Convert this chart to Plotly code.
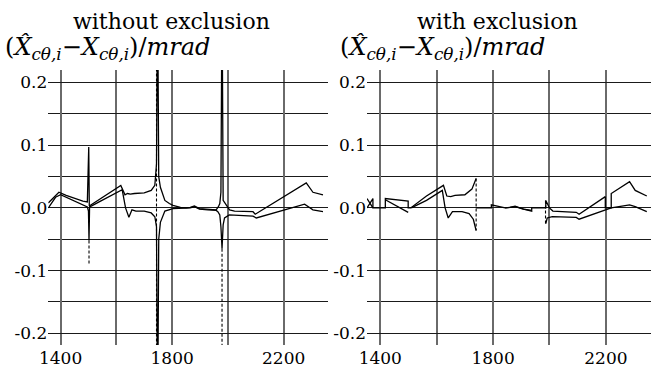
import plotly.graph_objects as go

# ---------------- data ----------------
# Left panel: "without exclusion"
left_c1_x = [1356, 1375, 1394, 1420, 1450, 1480, 1496, 1501, 1503, 1510, 1540, 1570, 1600, 1616,
             1631, 1640, 1650, 1665, 1700, 1725, 1738, 1744, 1748, 1752, 1758, 1768, 1774, 1790,
             1803, 1830, 1850, 1865, 1880, 1898, 1928, 1958, 1966, 1971, 1975, 1979, 1983, 1994,
             2006, 2024, 2090, 2098, 2281, 2305, 2341]
left_c1_y = [0.008, 0.016, 0.025, 0.020, 0.015, 0.011, 0.0095, 0.097, 0.003, 0.005, 0.013, 0.022,
             0.031, 0.036, 0.021, 0.023, 0.022, 0.023, 0.024, 0.028, 0.036, 0.070, 0.350, 0.050,
             0.033, 0.020, 0.012, 0.007, 0.004, 0.001, 0.000, 0.001, 0.003, -0.001, -0.002, -0.003,
             0.002, 0.007, 0.025, 0.350, 0.012, 0.004, -0.003, -0.005, -0.006, -0.010, 0.040,
             0.025, 0.021]

left_c2_x = [1356, 1370, 1382, 1400, 1420, 1450, 1480, 1496, 1500, 1502, 1504, 1510, 1540, 1570,
             1600, 1621, 1633, 1645, 1656, 1670, 1700, 1725, 1738, 1744, 1748, 1752, 1758, 1774,
             1803, 1850, 1865, 1880, 1898, 1928, 1958, 1964, 1971, 1975, 1979, 1983, 1988, 2005,
             2056, 2090, 2102, 2275, 2305, 2341]
left_c2_y = [0.000, 0.010, 0.017, 0.021, 0.017, 0.010, 0.004, 0.0016, -0.005, -0.052, 0.002, 0.003,
             0.010, 0.017, 0.024, 0.029, 0.000, -0.015, -0.003, -0.005, -0.005, -0.008, -0.014,
             -0.030, -0.350, -0.050, -0.023, -0.005, -0.001, 0.000, 0.000, 0.002, -0.002, -0.003,
             -0.004, -0.006, -0.011, -0.030, -0.065, -0.027, -0.016, -0.011, -0.012, -0.013,
             -0.016, 0.006, -0.003, -0.006]

left_dash_x = [1502, 1502, None, 1744, 1744, None, 1979, 1979]
left_dash_y = [-0.052, -0.091, None, 0.35, -0.35, None, -0.065, -0.35]

# Right panel: "with exclusion"
right_c1_x = [1353, 1374, 1374, 1418, 1418, 1499, 1499, 1508, 1564, 1624, 1636, 1650, 1665, 1700,
              1725, 1740, None, 1740, 1794, 1794, 1838, 1843, 1860, 1878, 1895, 1908, 1937, 1937,
              1987, 1987, 2000, 2012, 2095, 2105, 2198, 2198, 2219, 2219, 2284, 2304, 2345]
right_c1_y = [0.000, 0.015, 0.000, 0.000, 0.015, 0.011, 0.000, 0.000, 0.019, 0.036, 0.019, 0.018,
              0.020, 0.021, 0.030, 0.047, None, 0.000, 0.000, 0.005, 0.000, 0.000, 0.001, 0.003,
              0.000, -0.002, -0.005, 0.000, 0.000, 0.012, 0.000, -0.005, -0.007, -0.010, 0.018,
              0.000, 0.000, 0.023, 0.042, 0.028, 0.019]

right_c2_x = [1353, 1374, None, 1418, 1499, None, 1510, 1564, 1620, 1630, 1641, 1656, 1690, 1715,
              1730, 1740, None, 1843, 1878, 1908, 1937, None, 1987, 1992, 2010, 2095, 2105, 2198,
              2219, 2284, 2304, 2345]
right_c2_y = [0.015, 0.000, None, 0.013, -0.007, None, 0.000, 0.012, 0.028, 0.000, -0.016, -0.006,
              -0.006, -0.009, -0.018, -0.036, None, 0.000, 0.002, -0.002, -0.004, None, -0.025,
              -0.016, -0.014, -0.015, -0.018, -0.003, 0.000, 0.005, 0.002, -0.006]

right_dash_x = [1740, 1740, None, 1986, 1986]
right_dash_y = [0.047, -0.036, None, 0.012, -0.025]

y_tickvals = [0.2, 0.1, 0.0, -0.1, -0.2]
y_ticktext = ["0.2", "0.1", "0.0", "-0.1", "-0.2"]
y_minorvals = [0.15, 0.05, -0.05, -0.15]
x_tickvals = [1400, 1800, 2200]
x_ticktext = ["1400", "1800", "2200"]
x_minorvals = [1600, 2000]

titles = ["without exclusion", "with exclusion"]
ylabel = "(<i>X\u0302</i><sub><i>c\u03b8,i</i></sub>\u2212<i>X</i><sub><i>c\u03b8,i</i></sub>)/<i>mrad</i>"

# ---------------- figure ----------------
W, H = 662, 375
FONT = "DejaVu Serif"
fig = go.Figure()

line_solid = dict(color="black", width=1.3)
line_dash = dict(color="black", width=1.1, dash="3px,2px")

fig.add_trace(go.Scatter(x=left_c1_x, y=left_c1_y, mode="lines", line=line_solid, xaxis="x", yaxis="y"))
fig.add_trace(go.Scatter(x=left_c2_x, y=left_c2_y, mode="lines", line=line_solid, xaxis="x", yaxis="y"))
fig.add_trace(go.Scatter(x=left_dash_x, y=left_dash_y, mode="lines", line=line_dash, xaxis="x", yaxis="y"))

fig.add_trace(go.Scatter(x=right_c1_x, y=right_c1_y, mode="lines", line=line_solid, xaxis="x2", yaxis="y2"))
fig.add_trace(go.Scatter(x=right_c2_x, y=right_c2_y, mode="lines", line=line_solid, xaxis="x2", yaxis="y2"))
fig.add_trace(go.Scatter(x=right_dash_x, y=right_dash_y, mode="lines", line=line_dash, xaxis="x2", yaxis="y2"))

ydom = [(H - 345) / H, (H - 70) / H]

XGRID, XGW = "#6a6a6a", 1.8
YGRID, YGW = "#1a1a1a", 1.3

xcommon = dict(tickvals=x_tickvals, ticktext=x_ticktext, showgrid=True, gridcolor=XGRID,
               gridwidth=XGW, zeroline=False, showline=False, ticks="", automargin=False,
               ticklabelstandoff=1,
               minor=dict(tickvals=x_minorvals, showgrid=True, gridcolor=XGRID, gridwidth=XGW, ticks=""),
               tickfont=dict(family=FONT, size=17, color="black"), fixedrange=True)
ycommon = dict(tickvals=y_tickvals, ticktext=y_ticktext, showgrid=True, gridcolor=YGRID,
               gridwidth=YGW, zeroline=False, showline=False, ticks="", range=[-0.2186, 0.22],
               automargin=False, ticklabelstandoff=0,
               minor=dict(tickvals=y_minorvals, showgrid=True, gridcolor=YGRID, gridwidth=YGW, ticks=""),
               tickfont=dict(family=FONT, size=17, color="black"), fixedrange=True)

fig.update_layout(
    template="none",
    width=W, height=H,
    margin=dict(l=0, r=0, t=0, b=0, pad=0),
    paper_bgcolor="white", plot_bgcolor="white",
    showlegend=False,
    xaxis=dict(domain=[48.3 / W, 328 / W], range=[1356, 2359], anchor="y", **xcommon),
    yaxis=dict(domain=ydom, anchor="x", **ycommon),
    xaxis2=dict(domain=[367 / W, 651 / W], range=[1353, 2360], anchor="y2", **xcommon),
    yaxis2=dict(domain=ydom, anchor="x2", **ycommon),
)

for tx, cx in zip(titles, [171.7, 497]):
    fig.add_annotation(text=tx, xref="paper", yref="paper", x=cx / W, y=(H - 21) / H,
                       xanchor="center", yanchor="middle", showarrow=False,
                       font=dict(family=FONT, size=22, color="black"))
for lx in [3, 338]:
    fig.add_annotation(text=ylabel, xref="paper", yref="paper", x=lx / W, y=(H - 48) / H,
                       xanchor="left", yanchor="middle", align="left", showarrow=False,
                       font=dict(family=FONT, size=24, color="black"))

fig.write_html("out.html", config={"displayModeBar": False},
               post_script="document.body.style.margin='0';document.body.style.overflow='hidden';")
